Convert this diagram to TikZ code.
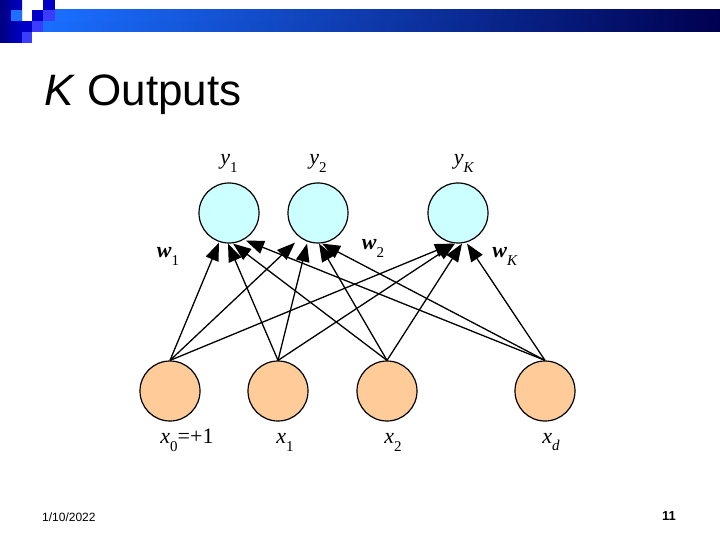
\documentclass[tikz,border=0pt]{standalone}
\usepackage{fontspec}
\setmainfont{Liberation Serif}
\newfontfamily\arialf{Liberation Sans}
\usetikzlibrary{arrows.meta}
\definecolor{outfill}{RGB}{204,255,255}
\definecolor{infill}{RGB}{255,204,153}
\definecolor{sqdark}{RGB}{0,0,200}
\definecolor{sqmid}{RGB}{60,60,255}
\definecolor{sqlight}{RGB}{30,110,255}
\definecolor{barleft}{RGB}{26,110,255}
\definecolor{barright}{RGB}{0,0,80}
\newcommand{\vlab}[2]{\textit{#1}\raisebox{-0.36em}{\fontsize{15}{15}\selectfont #2}}
\newcommand{\wlab}[2]{\textbf{\textit{#1}}\raisebox{-0.36em}{\fontsize{15}{15}\selectfont #2}}
\tikzset{
  outn/.style={circle, draw=black, line width=1.2pt, fill=outfill, minimum size=60pt, inner sep=0pt},
  inn/.style={circle, draw=black, line width=1.2pt, fill=infill, minimum size=60pt, inner sep=0pt},
  arr/.style={-{Triangle[length=18pt,width=13.5pt]}, line width=1.3pt},
  lab/.style={font=\fontsize{22}{22}\selectfont, inner sep=0pt},
}
\begin{document}
\begin{tikzpicture}[x=1pt,y=-1pt]
\path[use as bounding box, fill=white] (0,0) rectangle (720,540);
% header bar and squares
\shade[left color=barleft, right color=barright] (43,21) rectangle (720,32);
\shade[left color=barleft, right color=barright] (55,10) rectangle (720,21);
\shade[left color={rgb,255:red,0;green,0;blue,130}, right color={rgb,255:red,0;green,0;blue,200}] (0,0) rectangle (22,43);
\fill[sqlight] (11,10) rectangle (22,21);
\fill[sqdark] (22,21) rectangle (32,32);
\fill[sqmid] (22,32) rectangle (32,43);
\fill[sqdark] (32,10) rectangle (43,21);
\fill[sqmid] (32,21) rectangle (43,32);
\fill[sqdark] (43,0) rectangle (55,10);
\fill[sqmid] (43,10) rectangle (55,21);
% title
\node[anchor=base west, inner sep=0pt, font=\arialf\fontsize{44}{44}\selectfont] (title) at (44,106) {\textit{K} Outputs};
% nodes
\node[outn] (y1) at (229,213) {};
\node[outn] (y2) at (318,213) {};
\node[outn] (yK) at (458,213) {};
\node[inn] (x0) at (170,391) {};
\node[inn] (x1) at (278,391) {};
\node[inn] (x2) at (387,391) {};
\node[inn] (xd) at (545,391) {};
% arrows
\draw[arr] (x0.north) -- ([xshift=-10pt,yshift=1pt]y1.south);
\draw[arr] (x1.north) -- ([xshift=-1pt]y1.south);
\draw[arr] (x2.north) -- ([xshift=4pt]y1.south);
\draw[arr] (xd.north) -- ([xshift=17pt,yshift=3pt]y1.south);
\draw[arr] (x0.north) -- ([xshift=-23pt,yshift=1pt]y2.south);
\draw[arr] (x1.north) -- ([xshift=-11pt]y2.south);
\draw[arr] (x2.north) -- ([xshift=1pt]y2.south);
\draw[arr] (xd.north) -- ([xshift=4pt]y2.south);
\draw[arr] (x0.north) -- ([xshift=-5pt]yK.south);
\draw[arr] (x1.north) -- ([xshift=-3pt]yK.south);
\draw[arr] (x2.north) -- ([xshift=4pt]yK.south);
\draw[arr] (xd.north) -- ([xshift=9pt]yK.south);
% labels
\node[lab] (ly1) at (229,163) {\vlab{y}{1}};
\node[lab] (ly2) at (318,163) {\vlab{y}{2}};
\node[lab] (lyK) at (464,163) {\vlab{y}{\textit{K}}};
\node[lab] (lw1) at (168,256) {\wlab{w}{1}};
\node[lab] (lw2) at (373,248) {\wlab{w}{2}};
\node[lab] (lwK) at (505,256) {\wlab{w}{\textit{K}}};
\node[lab] (lx0) at (187,440) {\vlab{x}{0}=+1};
\node[lab] (lx1) at (285,442) {\vlab{x}{1}};
\node[lab] (lx2) at (393,442) {\vlab{x}{2}};
\node[lab] (lxd) at (551,442) {\vlab{x}{\textit{d}}};
% footer
\node[anchor=west, inner sep=0pt, font=\arialf\fontsize{12}{12}\selectfont] (date) at (42,517) {1/10/2022};
\node[inner sep=0pt, font=\arialf\bfseries\fontsize{13}{13}\selectfont] (page) at (669,516) {11};
\end{tikzpicture}
\end{document}
